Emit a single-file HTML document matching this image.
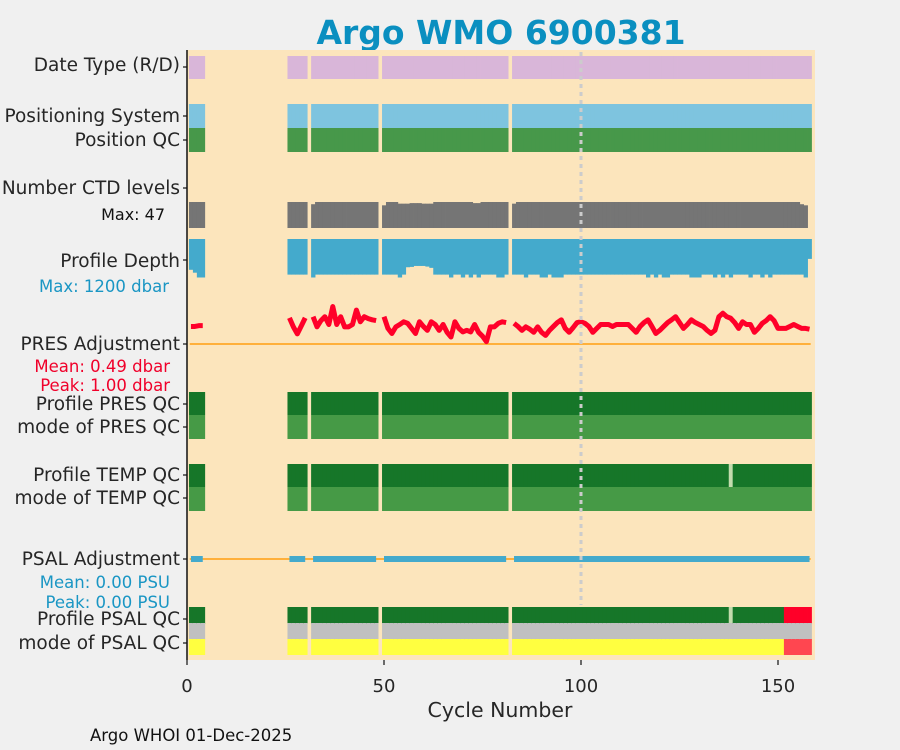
<!DOCTYPE html>
<html><head><meta charset="utf-8"><style>
body{margin:0;background:#f0f0f0;}
svg{display:block;font-family:"DejaVu Sans","Liberation Sans",sans-serif;}
.lab{font-size:18.5px;fill:#262626;text-anchor:end;}
</style></head><body>
<svg id="chart" width="900" height="750" viewBox="0 0 900 750">
<rect x="0" y="0" width="900" height="750" fill="#f0f0f0"/>
<text x="501" y="44" text-anchor="middle" font-size="33" font-weight="bold" fill="#0a8fc0">Argo WMO 6900381</text>
<rect x="187" y="50" width="628" height="610" fill="#fce5bc"/>
<g id="marks"></g>
<line x1="581" y1="52" x2="581" y2="605" stroke="#cccccc" stroke-width="3" stroke-dasharray="4 4"/>
<line x1="187" y1="50" x2="187" y2="660" stroke="#111" stroke-width="1.5"/>
<g id="ylabels">
<text class="lab" x="180" y="71">Date Type (R/D)</text>
<text class="lab" x="180" y="122">Positioning System</text>
<text class="lab" x="180" y="146">Position QC</text>
<text class="lab" x="180" y="194">Number CTD levels</text>
<text x="165" y="220" font-size="16" fill="#111" text-anchor="end">Max: 47</text>
<text class="lab" x="180" y="267">Profile Depth</text>
<text x="169" y="292" font-size="16.5" fill="#1a96c4" text-anchor="end">Max: 1200 dbar</text>
<text class="lab" x="180" y="350">PRES Adjustment</text>
<text x="170" y="372" font-size="16.5" fill="#f0002a" text-anchor="end">Mean: 0.49 dbar</text>
<text x="170" y="391" font-size="16.5" fill="#f0002a" text-anchor="end">Peak: 1.00 dbar</text>
<text class="lab" x="180" y="410">Profile PRES QC</text>
<text class="lab" x="180" y="433">mode of PRES QC</text>
<text class="lab" x="180" y="481">Profile TEMP QC</text>
<text class="lab" x="180" y="504">mode of TEMP QC</text>
<text class="lab" x="180" y="565">PSAL Adjustment</text>
<text x="170" y="588" font-size="16.5" fill="#1a96c4" text-anchor="end">Mean: 0.00 PSU</text>
<text x="170" y="608" font-size="16.5" fill="#1a96c4" text-anchor="end">Peak: 0.00 PSU</text>
<text class="lab" x="180" y="625">Profile PSAL QC</text>
<text class="lab" x="180" y="649">mode of PSAL QC</text>
</g>
<g id="xaxis"></g>
<text x="500" y="717" text-anchor="middle" font-size="20.5" fill="#262626">Cycle Number</text>
<text x="90" y="741" font-size="16.5" fill="#111">Argo WHOI 01-Dec-2025</text>
</svg>
<script>
const cycleRanges = [[1,4],[26,30],[32,48],[50,81],[83,158]];
const xTicks = [0,50,100,150];
const ctdLevels = [47,47,47,47, 47,47,47,47,47,
 43,47,47,47,47,47,47,47,47,47,47,47,47,47,47,47,47,
 41,47,47,47,44,44,44,45,45,45,44,44,44,47,47,47,47,47,47,47,47,47,47,45,45,47,47,47,47,47,47,47,
 44,47,47,47,47,47,47,47,47,47,47,47,47,47,47,47,47,47,47,47,47,47,47,47,47,47,47,47,47,47,47,47,47,47,47,47,47,47,47,47,47,47,47,47,47,47,47,47,47,47,47,47,47,47,47,47,47,47,47,47,47,47,47,47,47,47,47,47,47,47,47,47,47,43,41];
const profileDepth = [960,1050,1200,1200, 1110,1110,1110,1110,1110,
 1200,1110,1110,1110,1110,1110,1110,1110,1110,1110,1110,1110,1110,1110,1110,1110,1110,
 1110,1110,1110,1110,1200,1110,880,870,840,840,840,860,900,1110,1110,1110,1110,1200,1110,1110,1200,1110,1200,1110,1200,1110,1110,1110,1110,1200,1200,1110,
 1110,1110,1110,1200,1110,1110,1110,1200,1200,1110,1200,1200,1200,
 1110,1110,1110,1110,1110,1110,1110,1110,1110,1110,1110,1110,1110,1110,1110,1110,1110,1110,1110,1110,1110,
 1200,1110,1200,1110,1200,1200,1110,1110,1110,1110,1110,1200,1200,1200,1110,1110,1110,1200,1110,1200,1110,1200,
 1110,1110,1110,1110,1200,1110,1110,1200,1110,1200,1110,1110,1110,1110,1110,1110,1110,1110,1200,620];
const presAdjust = [0.45,0.45,0.47,0.47, 0.67,0.44,0.26,0.46,0.67,
 0.7,0.44,0.6,0.7,0.5,0.96,0.5,0.7,0.44,0.44,0.5,0.87,0.57,0.7,0.65,0.62,0.6,
 0.7,0.4,0.27,0.44,0.5,0.57,0.53,0.4,0.27,0.57,0.45,0.35,0.57,0.5,0.35,0.5,0.3,0.18,0.57,0.4,0.31,0.35,0.31,0.5,0.3,0.2,0.06,0.44,0.44,0.53,0.57,0.55,
 0.53,0.45,0.35,0.44,0.38,0.3,0.44,0.3,0.22,0.35,0.45,0.55,0.62,0.4,0.3,0.42,0.55,0.57,0.53,0.45,0.3,0.4,0.5,0.5,0.5,0.45,0.5,0.5,0.5,0.5,0.4,0.3,0.45,0.55,0.62,0.45,0.27,0.35,0.45,0.55,0.62,0.7,0.55,0.4,0.5,0.62,0.55,0.5,0.45,0.35,0.27,0.35,0.7,0.79,0.7,0.66,0.55,0.4,0.57,0.5,0.5,0.3,0.4,0.53,0.6,0.7,0.6,0.4,0.4,0.4,0.45,0.5,0.45,0.4,0.4,0.38];
const tempQcFlagged = [138];
const psalQcFlagged = [138];
const psalBadCycles = [152,153,154,155,156,157,158];

const NS = 'http://www.w3.org/2000/svg';
const marks = document.getElementById('marks');
const xaxisG = document.getElementById('xaxis');
function xS(c){ return 187 + 3.94*c; }
function depthY(v){ return 239 + v*38.5/1200; }
function ctdY(v){ return 228 - v*26/47; }
function presY(v){ return 344 - v*39; }
const cycles = [];
cycleRanges.forEach(r=>{ for(let c=r[0];c<=r[1];c++) cycles.push(c); });
function rect(x,y,w,h,fill){
  const r=document.createElementNS(NS,'rect');
  r.setAttribute('x',x); r.setAttribute('y',y); r.setAttribute('width',w); r.setAttribute('height',h); r.setAttribute('fill',fill);
  marks.appendChild(r); return r;
}
const W = 3.94;
cycles.forEach((c,i)=>{
  const x0 = xS(c-0.5), w = W+0.4;
  let el;
  el = rect(x0,56,w,23,'#d9b6d9');
  
  
  el = rect(x0,104,w,24,'#7ec4df');
  
  
  el = rect(x0,128,w,24,'#47984a');
  
  
  const cy = ctdY(ctdLevels[i]);
  el = rect(x0,cy,w,228-cy,'#757575');
  
  
  el = rect(x0,239,w,depthY(profileDepth[i])-239,'#44aacc');
  
  
  el = rect(x0,392,w,23,'#167629');
  
  
  el = rect(x0,415,w,24,'#469a46');
  
  
  el = rect(x0,464,w,23,tempQcFlagged.includes(c)?'#c3dcae':'#167629');
  
  
  el = rect(x0,487,w,24,'#469a46');
  
  
  const bad = psalBadCycles.includes(c);
  el = rect(x0,607,w,17,bad?'#ff0029':(psalQcFlagged.includes(c)?'#c3dcae':'#167629'));
  
  
  el = rect(x0,623,w,17,'#c0c0c0');
  
  
  el = rect(x0,639,w,16,bad?'#ff4650':'#ffff40');
  
  
});
[344,559].forEach((y,k)=>{
  const l=document.createElementNS(NS,'line');
  l.setAttribute('x1',xS(0.7)); l.setAttribute('x2',xS(158.3)); l.setAttribute('y1',y); l.setAttribute('y2',y);
  l.setAttribute('stroke','#ffb03b'); l.setAttribute('stroke-width','2');
  
  
  marks.appendChild(l);
});
let idx=0;
cycleRanges.forEach(r=>{
  const ptsP=[], ptsS=[];
  for(let c=r[0];c<=r[1];c++){ ptsP.push(xS(c)+','+presY(presAdjust[idx])); ptsS.push(xS(c)+',559'); idx++; }
  const p=document.createElementNS(NS,'polyline');
  p.setAttribute('points',ptsP.join(' ')); p.setAttribute('fill','none'); p.setAttribute('stroke','#ff0029');
  p.setAttribute('stroke-width','5'); p.setAttribute('stroke-linejoin','round');
  
  
  marks.appendChild(p);
  const s=document.createElementNS(NS,'polyline');
  if(ptsS.length===1) ptsS.push((xS(r[0])+1)+',559');
  s.setAttribute('points',ptsS.join(' ')); s.setAttribute('fill','none'); s.setAttribute('stroke','#44aacc');
  s.setAttribute('stroke-width','6');
  
  
  marks.appendChild(s);
});
[67,116,140,188,260,344,404,427,475,498,559,619,643].forEach(y=>{
  const t=document.createElementNS(NS,'line');
  t.setAttribute('x1',183); t.setAttribute('x2',187); t.setAttribute('y1',y); t.setAttribute('y2',y);
  t.setAttribute('stroke','#111'); t.setAttribute('stroke-width','1.2');
  
  
  xaxisG.appendChild(t);
});
xTicks.forEach(v=>{
  const t=document.createElementNS(NS,'line');
  t.setAttribute('x1',xS(v)); t.setAttribute('x2',xS(v)); t.setAttribute('y1',660); t.setAttribute('y2',665);
  t.setAttribute('stroke','#111'); t.setAttribute('stroke-width','1.2');
  
  
  xaxisG.appendChild(t);
  const tx=document.createElementNS(NS,'text');
  tx.setAttribute('x',xS(v)); tx.setAttribute('y',692); tx.setAttribute('text-anchor','middle');
  tx.setAttribute('font-size','18'); tx.setAttribute('fill','#262626');
  tx.textContent=v;
  
  
  xaxisG.appendChild(tx);
});
</script>
</body></html>
